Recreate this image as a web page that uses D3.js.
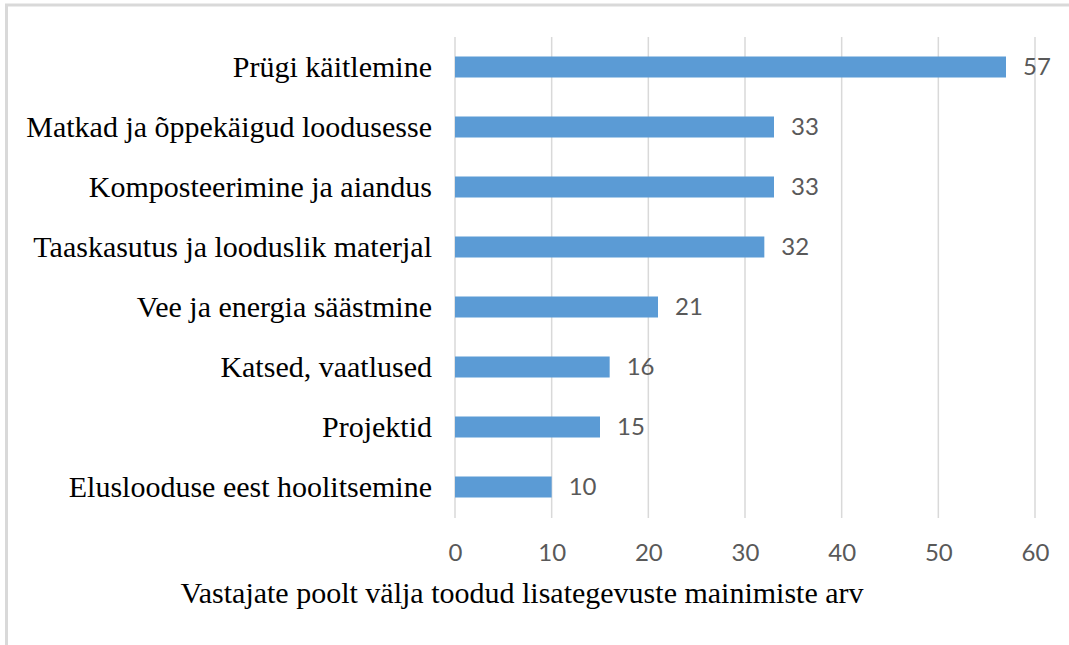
<!DOCTYPE html>
<html>
<head>
<meta charset="utf-8">
<script src="https://cdn.jsdelivr.net/npm/d3@7"></script>
<style>
  html, body { margin: 0; padding: 0; background: #fff; }
  svg { display: block; }
</style>
</head>
<body>
<div class="container"></div>
<script>
const categories = [
  "Prügi käitlemine",
  "Matkad ja õppekäigud loodusesse",
  "Komposteerimine ja aiandus",
  "Taaskasutus ja looduslik materjal",
  "Vee ja energia säästmine",
  "Katsed, vaatlused",
  "Projektid",
  "Eluslooduse eest hoolitsemine"
];
const values = [57, 33, 33, 32, 21, 16, 15, 10];
const xTicks = [0, 10, 20, 30, 40, 50, 60];
const xTitle = "Vastajate poolt välja toodud lisategevuste mainimiste arv";

const w = 1069;
const h = 645;
const plotLeft = 455, plotRight = 1035, plotTop = 37, plotBottom = 517;

const svg = d3.select(".container").append("svg")
  .attr("width", w)
  .attr("height", h);

// chart frame (cut off on right and bottom)
svg.append("rect")
  .attr("x", 6.5)
  .attr("y", 5)
  .attr("width", w + 10)
  .attr("height", h + 10)
  .attr("fill", "none")
  .attr("stroke", "#d9d9d9")
  .attr("stroke-width", 3);

const x = d3.scaleLinear().domain([0, 60]).range([plotLeft, plotRight]);
const y = d3.scaleBand().domain(categories).range([plotTop, plotBottom]).paddingInner(0.65).paddingOuter(0.325);

// gridlines
svg.append("g")
  .selectAll("line")
  .data(xTicks)
  .enter()
  .append("line")
  .attr("x1", d => x(d))
  .attr("x2", d => x(d))
  .attr("y1", plotTop)
  .attr("y2", plotBottom + 1)
  .attr("stroke", "#d9d9d9")
  .attr("stroke-width", 1.5);

// bars
svg.selectAll("rect.bar")
  .data(values)
  .enter()
  .append("rect")
  .attr("class", "bar")
  .attr("x", x(0))
  .attr("y", (d, i) => y(categories[i]))
  .attr("width", d => x(d) - x(0))
  .attr("height", y.bandwidth())
  .attr("fill", "#5b9bd5");

// value labels
svg.selectAll("text.val")
  .data(values)
  .enter()
  .append("text")
  .attr("class", "val")
  .attr("x", d => x(d) + 17)
  .attr("y", (d, i) => y(categories[i]) + y.bandwidth() / 2)
  .attr("dy", "0.35em")
  .style("font-family", "Lato, 'Open Sans', sans-serif")
  .style("font-size", "24px")
  .attr("fill", "#595959")
  .text(d => d);

// category labels
const yAxis = d3.axisLeft(y).tickSize(0).tickPadding(23);
const gy = svg.append("g")
  .attr("transform", "translate(" + plotLeft + ",0)")
  .call(yAxis);
gy.select(".domain").remove();
gy.selectAll("text")
  .style("font-family", "'Liberation Serif', 'Times New Roman', serif")
  .style("font-size", "30px")
  .attr("fill", "#000");

// x tick labels
const xAxis = d3.axisBottom(x).tickValues(xTicks).tickSize(0).tickPadding(0);
const gx = svg.append("g")
  .attr("transform", "translate(0,544)")
  .call(xAxis);
gx.select(".domain").remove();
gx.selectAll("text")
  .attr("dy", "0.72em")
  .style("font-family", "Lato, 'Open Sans', sans-serif")
  .style("font-size", "24px")
  .attr("fill", "#595959");

// axis title
svg.append("text")
  .attr("x", 522)
  .attr("y", 603)
  .style("text-anchor", "middle")
  .style("font-family", "'Liberation Serif', 'Times New Roman', serif")
  .style("font-size", "30px")
  .attr("fill", "#000")
  .text(xTitle);
</script>
</body>
</html>
